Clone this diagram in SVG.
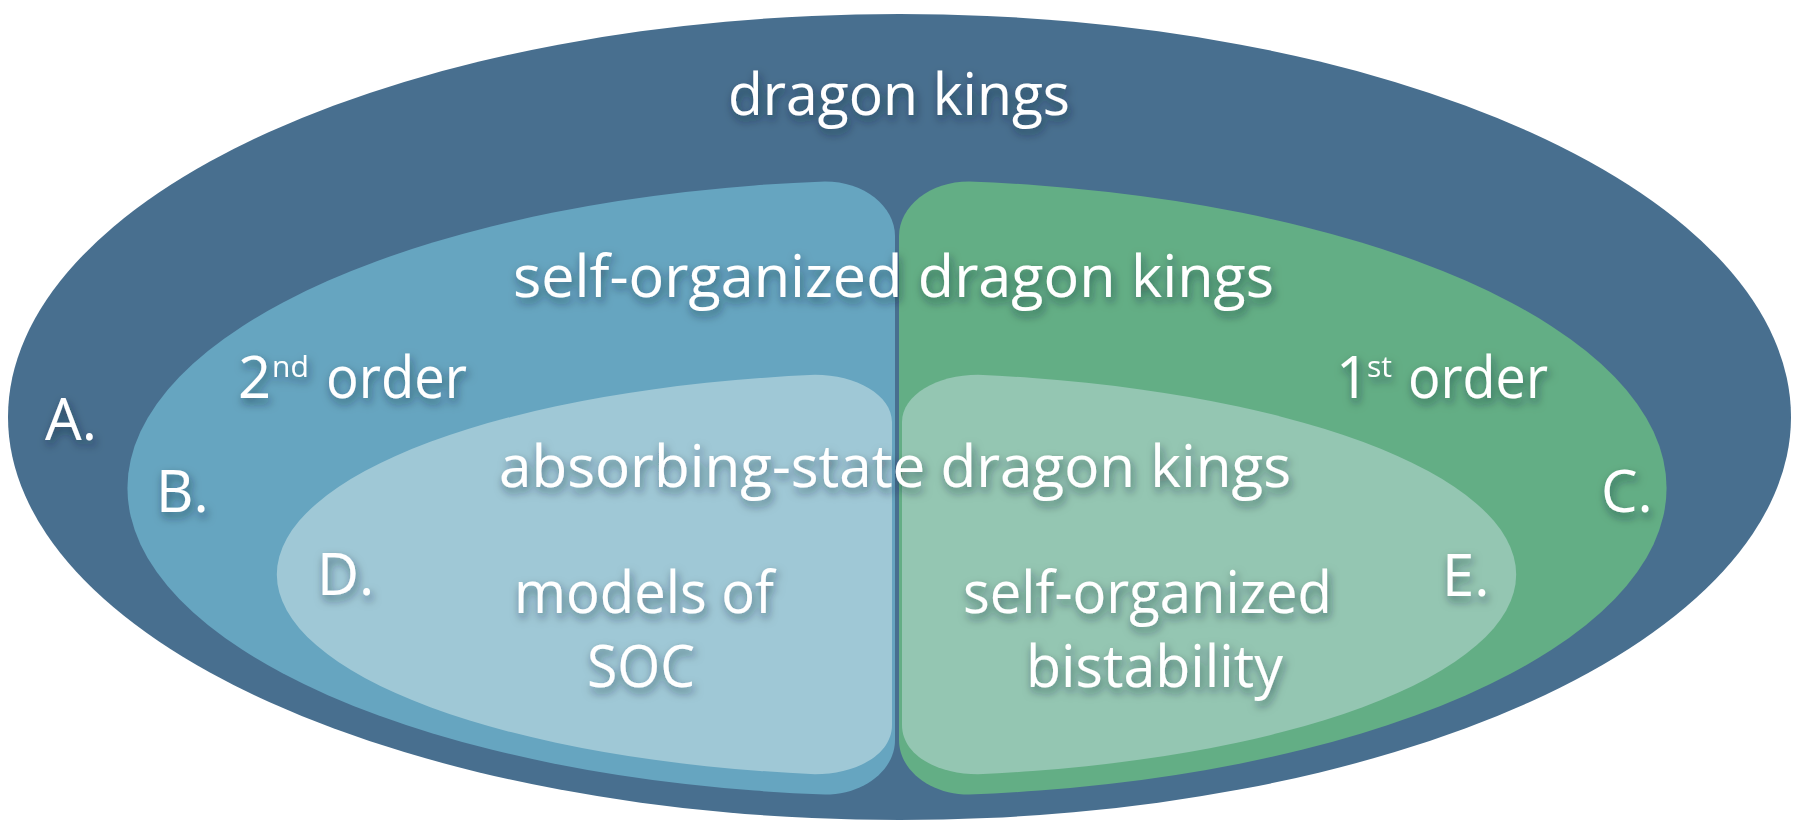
<svg xmlns="http://www.w3.org/2000/svg" width="1800" height="838" viewBox="0 0 1800 838">
<defs>
<filter id="sh" x="-20%" y="-40%" width="140%" height="180%">
<feDropShadow dx="2" dy="5" stdDeviation="5" flood-color="#10202e" flood-opacity="0.55"/>
</filter>
</defs>
<style>
.t{font-family:"Open Sans","Noto Sans","DejaVu Sans",sans-serif;fill:#ffffff;font-size:58px;filter:url(#sh)}
.m{text-anchor:middle}
.sup{font-size:30px}
</style>
<rect width="1800" height="838" fill="#ffffff"/>
<g id="node-A">
<ellipse cx="899.5" cy="417" rx="891.5" ry="403" fill="#486f8f"/>
<text class="t" x="728" y="115" textLength="342" lengthAdjust="spacingAndGlyphs">dragon kings</text>
<text class="t" x="45" y="440">A.</text>
</g>
<g id="node-B">
<path d="M825,181.4 A771 308 0 0 0 825,794.6 C864,794.6 895,770 895,740 L895,236 C895,206 864,181.4 825,181.4 Z" fill="#66a5c0"/>
<text class="t" x="156" y="512">B.</text>
<text class="t"><tspan x="238" y="398">2</tspan><tspan class="sup" x="272" y="377">nd</tspan><tspan x="326" y="398" textLength="141" lengthAdjust="spacingAndGlyphs">order</tspan></text>
</g>
<g id="node-C">
<path d="M969,181.4 A771 308 0 0 1 969,794.6 C930,794.6 899,770 899,740 L899,236 C899,206 930,181.4 969,181.4 Z" fill="#63ae85"/>
<text class="t" x="1601" y="512">C.</text>
<text class="t"><tspan x="1336" y="398">1</tspan><tspan class="sup" x="1367" y="377">st</tspan><tspan x="1408" y="398" textLength="140" lengthAdjust="spacingAndGlyphs">order</tspan></text>
</g>
<g id="label-self-organized">
<text class="t" x="513" y="297" textLength="761" lengthAdjust="spacingAndGlyphs">self-organized dragon kings</text>
</g>
<g id="node-D">
<path d="M815,374.8 A621 201.5 0 0 0 815,774.2 C856,774.2 892,755 892,725 L892,422 C892,395 856,374.8 815,374.8 Z" fill="#9fc8d6"/>
<text class="t" x="317" y="595">D.</text>
<text class="t" x="514" y="613" textLength="260" lengthAdjust="spacingAndGlyphs">models of</text>
<text class="t" x="587" y="687" textLength="108" lengthAdjust="spacingAndGlyphs">SOC</text>
</g>
<g id="node-E">
<path d="M978,374.8 A621 201.5 0 0 1 978,774.2 C937,774.2 902,755 902,725 L902,422 C902,395 937,374.8 978,374.8 Z" fill="#94c6b2"/>
<text class="t" x="1442" y="596">E.</text>
<text class="t" x="963" y="613" textLength="369" lengthAdjust="spacingAndGlyphs">self-organized</text>
<text class="t" x="1026" y="687" textLength="257" lengthAdjust="spacingAndGlyphs">bistability</text>
</g>
<g id="label-absorbing">
<text class="t" x="499" y="487" textLength="792" lengthAdjust="spacingAndGlyphs">absorbing-state dragon kings</text>
</g>
</svg>
